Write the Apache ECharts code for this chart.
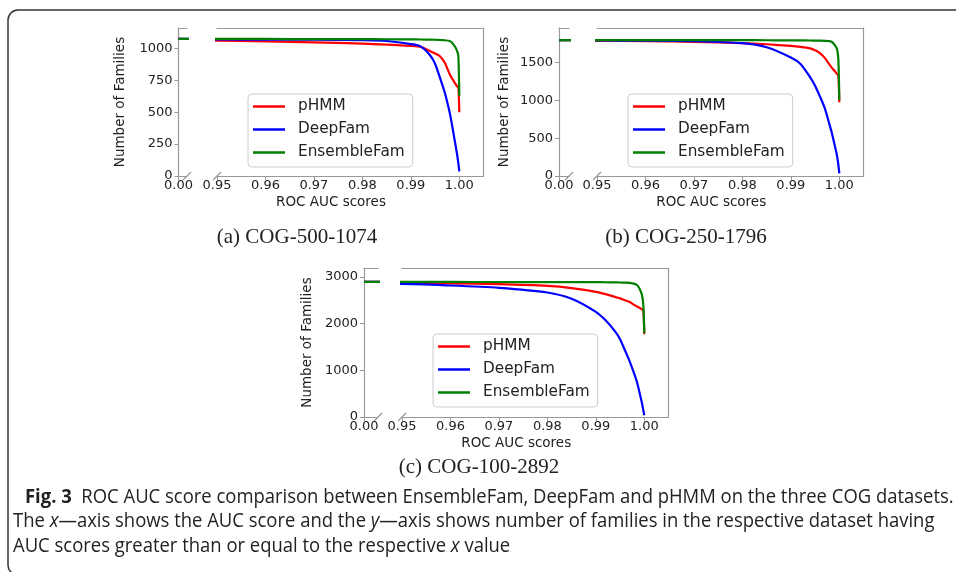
<!DOCTYPE html>
<html>
<head>
<meta charset="utf-8">
<script src="https://cdn.jsdelivr.net/npm/echarts@6/dist/echarts.min.js"></script>
<style>
  html, body { margin: 0; padding: 0; background: #fff; }
  #chart { width: 956px; height: 572px; }
</style>
</head>
<body>
<div id="chart"></div>
<script>
// AUC thresholds shared by every curve (x = 0 is the "all families" point)
const aucPoints = [0, 0.95, 0.96, 0.97, 0.98, 0.985, 0.99, 0.992, 0.994, 0.995, 0.996, 0.997, 0.998, 0.9985, 0.999, 0.9995, 0.9998, 1.0];

// (a) COG-500-1074
const aPhmm = [1074, 1060, 1055, 1048, 1037, 1030, 1020, 1012, 978, 960, 939, 887, 800, 765, 735, 705, 694, 500];
const aDeep = [1074, 1070, 1069, 1068, 1064, 1058, 1034, 1016, 945, 880, 771, 655, 500, 400, 290, 180, 100, 36];
const aEns  = [1074, 1074, 1074, 1073, 1073, 1072, 1071, 1070, 1069, 1068, 1066, 1064, 1058, 1045, 1020, 985, 940, 629];
// (b) COG-250-1796
const bPhmm = [1796, 1785, 1780, 1772, 1755, 1740, 1718, 1705, 1685, 1660, 1623, 1560, 1470, 1425, 1390, 1350, 1327, 975];
const bDeep = [1796, 1790, 1787, 1780, 1755, 1700, 1565, 1480, 1303, 1193, 1051, 896, 675, 558, 418, 278, 152, 36];
const bEns  = [1796, 1795, 1795, 1794, 1794, 1793, 1792, 1791, 1790, 1789, 1788, 1786, 1782, 1770, 1735, 1680, 1550, 1005];
// (c) COG-100-2892
const cPhmm = [2892, 2876, 2862, 2843, 2806, 2760, 2680, 2630, 2570, 2540, 2500, 2460, 2395, 2365, 2340, 2305, 2285, 1770];
const cDeep = [2892, 2848, 2815, 2765, 2665, 2530, 2250, 2071, 1829, 1667, 1430, 1187, 902, 745, 530, 305, 145, 38];
const cEns  = [2892, 2891, 2891, 2890, 2889, 2888, 2887, 2885, 2882, 2880, 2876, 2870, 2850, 2825, 2750, 2620, 2400, 1790];

const methodNames = ["pHMM", "DeepFam", "EnsembleFam"];
const methodColors = ["#ff0000", "#0000ff", "#008000"];
const xTicks = [0.95, 0.96, 0.97, 0.98, 0.99, 1.0];
const aYTicks = [0, 250, 500, 750, 1000];
const bYTicks = [0, 500, 1000, 1500];
const cYTicks = [0, 1000, 2000, 3000];
const subCaptions = ["(a) COG-500-1074", "(b) COG-250-1796", "(c) COG-100-2892"];
const xName = "ROC AUC scores";
const yName = "Number of Families";

// layout of the three broken-axis panels
const panels = [
  { series: [aPhmm, aDeep, aEns], yTicks: aYTicks, yMax: 1160, spine: 178.5, brk: 187, main: 217, top: 28, bottom: 176, nameGap: 51, legend: [248, 94], caption: [297, 237] },
  { series: [bPhmm, bDeep, bEns], yTicks: bYTicks, yMax: 1955, spine: 559, brk: 569, main: 597, top: 28, bottom: 176, nameGap: 48, legend: [628, 94], caption: [686, 237] },
  { series: [cPhmm, cDeep, cEns], yTicks: cYTicks, yMax: 3190, spine: 364, brk: 378, main: 402, top: 268, bottom: 417, nameGap: 50, legend: [433, 334], caption: [479, 467] },
];
const pxPerUnit = 4846;       // horizontal pixels per 1.0 of AUC
const mainMin = 0.95, mainMax = 1.005;

const spine = "#999";
const ink = "#222";
const tickFont = { color: ink, fontSize: 13, fontFamily: "DejaVu Sans" };

const chart = echarts.init(document.getElementById("chart"));
const grid = [], xAxis = [], yAxis = [], series = [], legend = [], graphic = [];

panels.forEach((p, k) => {
  const h = p.bottom - p.top;
  const leftW = p.brk - p.spine;
  const mainW = (mainMax - mainMin) * pxPerUnit;
  const g0 = grid.length;
  grid.push({ left: p.spine, top: p.top, width: leftW, height: h });
  grid.push({ left: p.main, top: p.top, width: mainW, height: h });
  const x0 = xAxis.length, y0 = yAxis.length;
  const line = { show: true, lineStyle: { color: spine, width: 1.2 } };
  const leftMax = leftW / pxPerUnit;
  // left stub: bottom + top spines
  xAxis.push({
    type: "value", gridIndex: g0, min: 0, max: leftMax, axisLine: line,
    axisTick: { customValues: [0], length: 4, lineStyle: { color: spine } },
    axisLabel: { customValues: [0], margin: 3, formatter: (v) => v.toFixed(2), ...tickFont },
    splitLine: { show: false },
  });
  xAxis.push({ type: "value", gridIndex: g0, position: "top", min: 0, max: leftMax, axisLine: line,
    axisTick: { show: false }, axisLabel: { show: false }, splitLine: { show: false } });
  // main panel
  xAxis.push({
    type: "value", gridIndex: g0 + 1, min: mainMin, max: mainMax, axisLine: line,
    axisTick: { customValues: xTicks, length: 4, lineStyle: { color: spine } },
    axisLabel: { customValues: xTicks, margin: 3, formatter: (v) => v.toFixed(2), ...tickFont },
    splitLine: { show: false },
  });
  xAxis.push({ type: "value", gridIndex: g0 + 1, position: "top", min: mainMin, max: mainMax, axisLine: line,
    axisTick: { show: false }, axisLabel: { show: false }, splitLine: { show: false } });
  yAxis.push({
    type: "value", gridIndex: g0, min: 0, max: p.yMax, axisLine: line,
    axisTick: { customValues: p.yTicks, length: 4, lineStyle: { color: spine } },
    axisLabel: { customValues: p.yTicks, margin: 6, formatter: (v) => String(v), ...tickFont },
    splitLine: { show: false },
    name: yName, nameLocation: "middle", nameGap: p.nameGap,
    nameTextStyle: { color: ink, fontSize: 13.5, fontFamily: "DejaVu Sans" },
  });
  yAxis.push({ type: "value", gridIndex: g0 + 1, position: "right", min: 0, max: p.yMax, axisLine: line,
    axisTick: { show: false }, axisLabel: { show: false }, splitLine: { show: false } });

  // each curve is drawn in both the stub and the main panel, clipped by its own axes
  [[x0, y0], [x0 + 2, y0 + 1]].forEach(([xi, yi]) => {
    p.series.forEach((vals, s) => {
      series.push({
        type: "line", name: methodNames[s], xAxisIndex: xi, yAxisIndex: yi,
        data: aucPoints.map((x, i) => [x, vals[i]]),
        showSymbol: false, clip: true, silent: true,
        smooth: 0.25,
        color: methodColors[s], lineStyle: { width: 2.2, color: methodColors[s] },
      });
    });
  });

  legend.push({
    orient: "vertical", left: p.legend[0], top: p.legend[1],
    data: methodNames, icon: "rect", itemWidth: 32, itemHeight: 2.5, itemGap: 8,
    padding: [5, 8, 7, 5],
    backgroundColor: "rgba(255,255,255,0.8)", borderColor: "#ccc", borderWidth: 1, borderRadius: 4,
    textStyle: { color: ink, fontSize: 15.3, fontFamily: "DejaVu Sans", padding: [0, 0, 0, 8] },
    selectedMode: false,
  });

  // break marks, x-axis title and sub-caption
  [p.brk, p.main].forEach((bx) => {
    graphic.push({ type: "line", shape: { x1: bx - 4, y1: p.bottom + 4, x2: bx + 4, y2: p.bottom - 4 },
      style: { stroke: spine, lineWidth: 1.2 } });
  });
  graphic.push({ type: "text", x: (p.spine + p.main + mainW) / 2, y: p.bottom + 26,
    style: { text: xName, fill: ink, font: "13.5px 'DejaVu Sans'", align: "center", verticalAlign: "middle" } });
  graphic.push({ type: "text", x: p.caption[0], y: p.caption[1],
    style: { text: subCaptions[k], fill: ink, font: "21px 'Liberation Serif'", align: "center", verticalAlign: "middle" } });
});

// figure frame and caption
graphic.push({ type: "rect", shape: { x: 8, y: 10, width: 1000, height: 565, r: 10 },
  style: { fill: "none", stroke: "#333", lineWidth: 1.5 }, z: -1 });
const captionFont = "'Open Sans'";
const capSize = 19.5;
const capRich = {
  b: { fontWeight: "bold", fontSize: capSize, fontFamily: captionFont, fill: ink },
  i: { fontStyle: "italic", fontSize: capSize, fontFamily: captionFont, fill: ink },
};
const captionLines = [
  "{b|Fig. 3}  ROC AUC score comparison between EnsembleFam, DeepFam and pHMM on the three COG datasets.",
  "The {i|x}\u2014axis shows the AUC score and the {i|y}\u2014axis shows number of families in the respective dataset having",
  "AUC scores greater than or equal to the respective {i|x} value",
];
const captionPos = [[25, 497], [13, 521], [13, 546]];
// the printed caption uses a condensed face: squeeze the text to the width of the second line (13 → 936)
const ctx = document.createElement("canvas").getContext("2d");
ctx.font = capSize + "px " + captionFont;
const squeeze = 923 / ctx.measureText(captionLines[1].replace(/\{i\|(.)\}/g, "$1")).width;
captionLines.forEach((t, i) => {
  graphic.push({ type: "text", x: captionPos[i][0], y: captionPos[i][1], scaleX: squeeze,
    style: { text: t, rich: capRich, fill: ink, fontSize: capSize, fontFamily: captionFont, verticalAlign: "middle" } });
});

chart.setOption({ animation: false, grid, xAxis, yAxis, series, legend, graphic });
</script>
</body>
</html>
